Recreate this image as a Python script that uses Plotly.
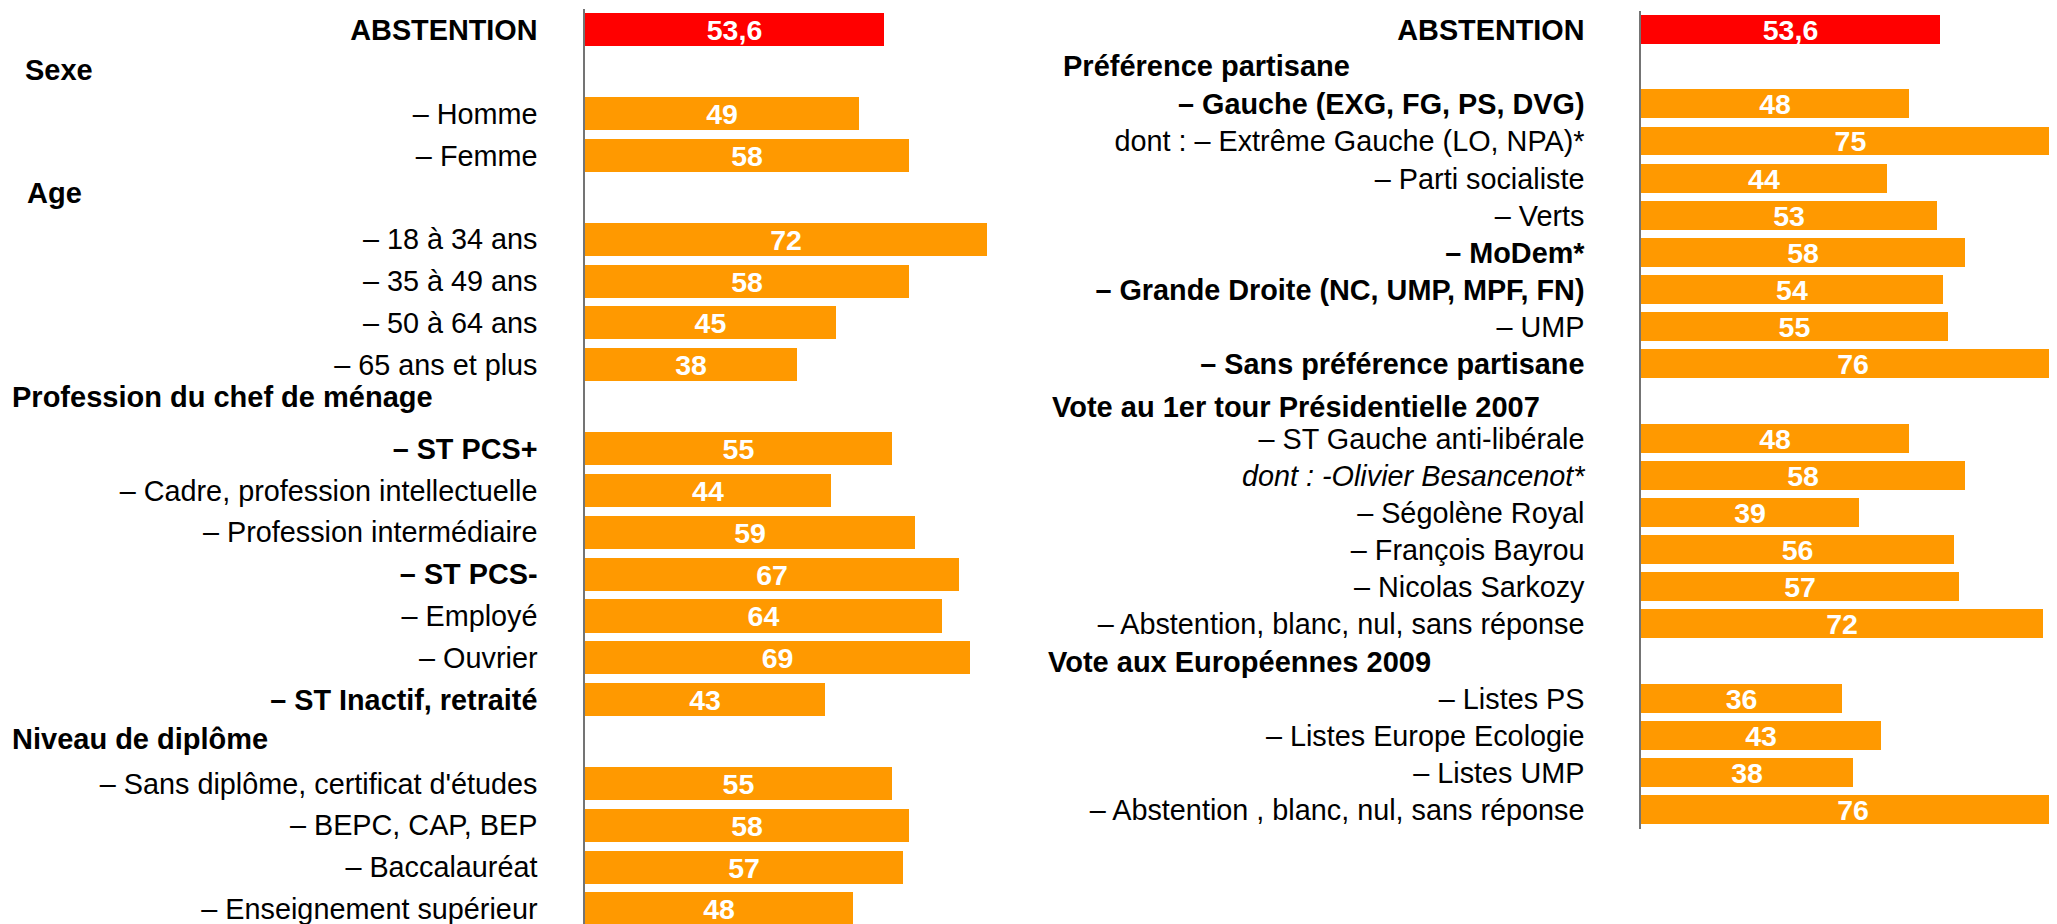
import plotly.graph_objects as go

W, H = 2057, 924
OFF = 8  # the page body margin shifts the figure by this many pixels
FONT = "Liberation Sans, Arial, sans-serif"
ORANGE = "#FF9900"
RED = "#FF0000"

# ---------------- data ----------------
left_labels = [
    "ABSTENTION", "Sexe", "– Homme", "– Femme", "Age",
    "– 18 à 34 ans", "– 35 à 49 ans", "– 50 à 64 ans", "– 65 ans et plus",
    "Profession du chef de ménage", "– ST PCS+", "– Cadre, profession intellectuelle",
    "– Profession intermédiaire", "– ST PCS-", "– Employé", "– Ouvrier",
    "– ST Inactif, retraité", "Niveau de diplôme",
    "– Sans diplôme, certificat d'études", "– BEPC, CAP, BEP", "– Baccalauréat",
    "– Enseignement supérieur",
]
left_values = [53.6, None, 49, 58, None, 72, 58, 45, 38, None, 55, 44, 59, 67, 64, 69,
               43, None, 55, 58, 57, 48]
left_headers = ["Sexe", "Age", "Profession du chef de ménage", "Niveau de diplôme"]
left_bold = ["ABSTENTION", "– ST PCS+", "– ST PCS-", "– ST Inactif, retraité"]
left_italic = []

right_labels = [
    "ABSTENTION", "Préférence partisane", "– Gauche (EXG, FG, PS, DVG)",
    "dont : – Extrême Gauche (LO, NPA)*", "– Parti socialiste", "– Verts", "– MoDem*",
    "– Grande Droite (NC, UMP, MPF, FN)", "– UMP", "– Sans préférence partisane",
    "Vote au 1er tour Présidentielle 2007", "– ST Gauche anti-libérale",
    "dont : -Olivier Besancenot*", "– Ségolène Royal", "– François Bayrou",
    "– Nicolas Sarkozy", "– Abstention, blanc, nul, sans réponse",
    "Vote aux Européennes 2009", "– Listes PS", "– Listes Europe Ecologie",
    "– Listes UMP", "– Abstention , blanc, nul, sans réponse",
]
right_values = [53.6, None, 48, 75, 44, 53, 58, 54, 55, 76, None, 48, 58, 39, 56, 57, 72,
                None, 36, 43, 38, 76]
right_headers = ["Préférence partisane", "Vote au 1er tour Présidentielle 2007",
                 "Vote aux Européennes 2009"]
right_bold = ["ABSTENTION", "– Gauche (EXG, FG, PS, DVG)", "– MoDem*",
              "– Grande Droite (NC, UMP, MPF, FN)", "– Sans préférence partisane"]
right_italic = ["dont : -Olivier Besancenot*"]

# ---------------- layout geometry (page pixels) ----------------
PX_PER_UNIT = 5.585
left_geom = dict(x0=585, x1=1000, top=9.1, pitch=41.86, bottom=930, standoff=40,
                 header_x=[23, 25, 10, 10], header_dy=[2, 4, 10, 3], bar_w=0.79)
right_geom = dict(x0=1641, x1=2057, top=11.4, pitch=37.14, bottom=828.6, standoff=49,
                  header_x=[1061, 1050, 1046], header_dy=[1, -6, -1], bar_w=0.78)

fig = go.Figure()
annotations = []


def fmt(v):
    return f"{v:g}".replace(".", ",")


def style(lbl, bold, italic):
    if lbl in bold:
        return f"<b>{lbl}</b>"
    if lbl in italic:
        return f"<i>{lbl}</i>"
    return lbl


def add_panel(n, labels, values, headers, bold, italic, g):
    xa = "x" if n == 1 else f"x{n}"
    ya = "y" if n == 1 else f"y{n}"
    items = [(l, v) for l, v in zip(labels, values) if v is not None]
    ys = [l for l, _ in items]
    xs = [v for _, v in items]
    fig.add_trace(go.Bar(
        x=xs, y=ys, orientation="h", xaxis=xa, yaxis=ya,
        marker=dict(color=[RED if l == "ABSTENTION" else ORANGE for l in ys], line=dict(width=0)),
        width=g["bar_w"],
        text=[fmt(v) for v in xs], textposition="inside", insidetextanchor="middle",
        constraintext="none", textangle=0,
        textfont=dict(family=FONT, size=28.5, color="white", weight="bold"),
        showlegend=False, hoverinfo="skip",
    ))
    x0, x1 = g["x0"] - OFF, g["x1"] - OFF
    top, bottom = g["top"] - OFF, g["bottom"] - OFF
    span = (bottom - top) / g["pitch"]
    xkey = "xaxis" if n == 1 else f"xaxis{n}"
    ykey = "yaxis" if n == 1 else f"yaxis{n}"
    fig.update_layout(**{
        xkey: dict(domain=[x0 / W, x1 / W], range=[0, (x1 - x0) / PX_PER_UNIT],
                   visible=False, anchor=ya),
        ykey: dict(domain=[(H - bottom) / H, (H - top) / H],
                   type="category", categoryorder="array", categoryarray=labels,
                   range=[-0.5 + span, -0.5], anchor=xa,
                   showline=True, linecolor="#747474", linewidth=1.5,
                   showgrid=False, zeroline=False, ticks="",
                   tickmode="array", tickvals=ys, ticktext=[style(l, bold, italic) for l in ys],
                   ticklabelstandoff=g["standoff"],
                   tickfont=dict(family=FONT, size=28.8, color="black")),
    })
    for hx, dy, h in zip(g["header_x"], g["header_dy"], headers):
        annotations.append(dict(
            x=(hx - OFF) / W, xref="paper", xanchor="left",
            y=labels.index(h), yref=ya, yanchor="middle", yshift=dy,
            text=f"<b>{h}</b>", showarrow=False,
            font=dict(family=FONT, size=29, color="black"),
        ))


add_panel(1, left_labels, left_values, left_headers, left_bold, left_italic, left_geom)
add_panel(2, right_labels, right_values, right_headers, right_bold, right_italic, right_geom)

fig.update_layout(
    width=W, height=H, margin=dict(l=0, r=0, t=0, b=0),
    paper_bgcolor="white", plot_bgcolor="white",
    annotations=annotations, bargap=0,
    font=dict(family=FONT),
)

fig.write_html("out.html")
